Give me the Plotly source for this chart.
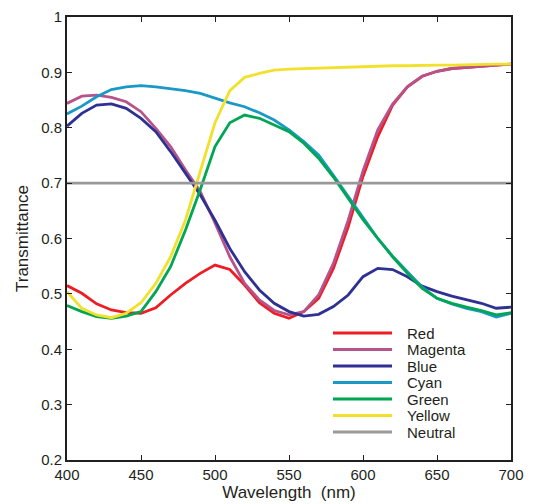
import plotly.graph_objects as go

wavelength = list(range(400, 701, 10))

red = [0.515, 0.501, 0.482, 0.471, 0.466, 0.465, 0.475, 0.498, 0.519, 0.537, 0.552,
       0.544, 0.516, 0.484, 0.465, 0.456, 0.468, 0.492, 0.546, 0.621, 0.712,
       0.784, 0.841, 0.874, 0.893, 0.902, 0.907, 0.909, 0.911, 0.912, 0.915]
magenta = [0.844, 0.857, 0.859, 0.855, 0.847, 0.829, 0.799, 0.766, 0.724, 0.685, 0.628,
           0.567, 0.519, 0.489, 0.470, 0.462, 0.468, 0.498, 0.555, 0.633, 0.722,
           0.796, 0.843, 0.874, 0.893, 0.902, 0.907, 0.909, 0.911, 0.912, 0.915]
blue = [0.803, 0.826, 0.841, 0.843, 0.835, 0.817, 0.793, 0.757, 0.718, 0.679, 0.633,
        0.582, 0.540, 0.507, 0.483, 0.468, 0.460, 0.463, 0.477, 0.498, 0.531,
        0.546, 0.544, 0.531, 0.514, 0.504, 0.496, 0.490, 0.483, 0.474, 0.476]
cyan = [0.825, 0.839, 0.856, 0.869, 0.874, 0.876, 0.874, 0.871, 0.867, 0.862, 0.853,
        0.845, 0.838, 0.827, 0.814, 0.796, 0.775, 0.751, 0.714, 0.676, 0.636,
        0.600, 0.568, 0.540, 0.512, 0.492, 0.482, 0.474, 0.468, 0.458, 0.465]
green = [0.479, 0.468, 0.459, 0.456, 0.460, 0.468, 0.504, 0.549, 0.615, 0.688, 0.766,
         0.809, 0.823, 0.817, 0.805, 0.793, 0.772, 0.745, 0.711, 0.673, 0.634,
         0.600, 0.567, 0.537, 0.510, 0.492, 0.483, 0.476, 0.470, 0.462, 0.466]
yellow = [0.504, 0.474, 0.462, 0.457, 0.465, 0.484, 0.519, 0.567, 0.633, 0.722, 0.809,
          0.867, 0.891, 0.898, 0.904, 0.906, 0.907, 0.908, 0.909, 0.910, 0.911,
          0.911, 0.912, 0.912, 0.913, 0.913, 0.913, 0.914, 0.914, 0.915, 0.915]
neutral = [0.7] * len(wavelength)

series_names = ["Red", "Magenta", "Blue", "Cyan", "Green", "Yellow", "Neutral"]
series_values = [red, magenta, blue, cyan, green, yellow, neutral]
series_colors = ["#ee1d25", "#b5538a", "#2e3192", "#1a98c6", "#00a651", "#f2e12c", "#999999"]

fig = go.Figure()
for name, vals, color in zip(series_names, series_values, series_colors):
    fig.add_trace(go.Scatter(x=wavelength, y=vals, mode="lines", name=name,
                             line=dict(color=color, width=2.8), showlegend=False))

# Compact legend drawn in paper coordinates (plot area: 444 x 443 px)
PW, PH = 444.0, 443.0
leg_x0, leg_x1, leg_tx = (333 - 67) / PW, (392 - 67) / PW, (405 - 67) / PW
row_top, row_step = (460 - 333) / PH, 16.5 / PH
for i, (name, color) in enumerate(zip(series_names, series_colors)):
    yy = row_top - i * row_step
    fig.add_shape(type="line", xref="paper", yref="paper", x0=leg_x0, x1=leg_x1,
                  y0=yy, y1=yy, line=dict(color=color, width=3))
    fig.add_annotation(xref="paper", yref="paper", x=leg_tx, y=yy, text=name,
                       showarrow=False, xanchor="left", yanchor="middle",
                       font=dict(size=15))

font = "Arial, Liberation Sans, sans-serif"
fig.update_layout(
    width=533, height=504,
    margin=dict(l=67, r=22, t=17, b=44),
    paper_bgcolor="white", plot_bgcolor="white",
    font=dict(family=font, size=15, color="#231f20"),
    showlegend=False,
    xaxis=dict(range=[400, 700], dtick=50, tick0=400, showgrid=False, zeroline=False,
               ticks="inside", ticklen=5, tickwidth=1, tickcolor="#231f20",
               showline=True, linecolor="#231f20", linewidth=2, mirror="ticks",
               automargin=False,
               title=dict(text="Wavelength \u00a0(nm)", font=dict(size=17), standoff=0)),
    yaxis=dict(range=[0.2, 1.0], dtick=0.1, tick0=0.2, showgrid=False, zeroline=False,
               ticks="inside", ticklen=5, tickwidth=1, tickcolor="#231f20",
               showline=True, linecolor="#231f20", linewidth=2, mirror="ticks",
               automargin=False,
               title=dict(text="Transmittance", font=dict(size=17), standoff=8)),
)

fig.write_html("out.html")
